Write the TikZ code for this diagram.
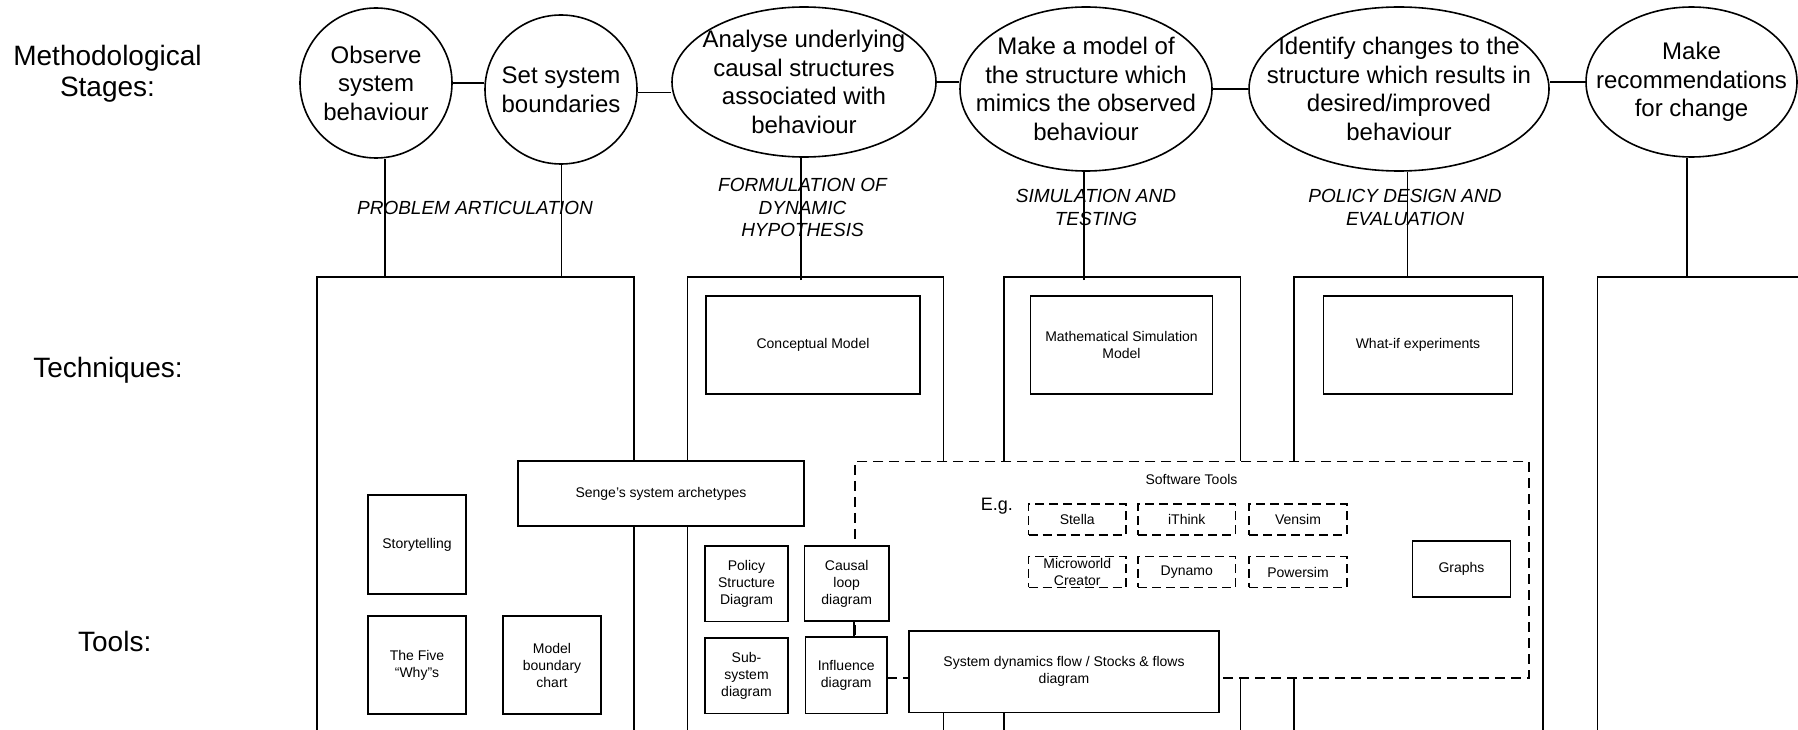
\documentclass[tikz,border=0pt]{standalone}
\usepackage{fontspec}
\setmainfont{Liberation Sans}
\usetikzlibrary{shapes.geometric}
\begin{document}
\begin{tikzpicture}[x=1pt,y=-1pt, line width=1.6pt,
  stage/.style={draw, ellipse, fill=white, inner sep=0pt},
  stagetext/.style={align=center, font=\fontsize{24}{28.5}\selectfont, inner sep=0pt},
  rowlabel/.style={align=center, font=\fontsize{28}{31}\selectfont, inner sep=0pt},
  phase/.style={align=center, font=\fontsize{19}{22.3}\selectfont\itshape, inner sep=0pt},
  colbox/.style={draw, anchor=north west, inner sep=0pt, minimum height=600pt},
  box/.style={draw, fill=white, align=center, inner sep=0pt, font=\fontsize{14}{17}\selectfont},
  swbox/.style={draw, dash pattern=on 10pt off 6pt, fill=white, inner sep=0pt},
  prod/.style={draw, dash pattern=on 9pt off 5pt, fill=white, align=center, inner sep=0pt,
    minimum width=97.5pt, minimum height=30.7pt, font=\fontsize{14}{17}\selectfont},
  small/.style={align=center, inner sep=0pt, font=\fontsize{14}{17}\selectfont},
]
\useasboundingbox (0,0) rectangle (1798,730);
\clip (0,0) rectangle (1798,730);

% row labels
\node[rowlabel] (lstages) at (107.5,74) {Methodological\\Stages:};
\node[rowlabel] (ltech) at (108,370) {Techniques:};
\node[rowlabel] (ltools) at (114.7,641.5) {Tools:};

% columns
\node[colbox, minimum width=317pt] (col1) at (316,276) {};
\node[colbox, minimum width=256pt] (col2) at (686.5,276) {};
\node[colbox, minimum width=236.5pt] (col3) at (1003,276) {};
\node[colbox, minimum width=249pt] (col4) at (1293,276) {};
\node[colbox, minimum width=300pt] (col5) at (1596.5,276) {};

% stages
\node[stage, minimum width=152pt, minimum height=150pt] (e1) at (376,83) {};
\node[stage, minimum width=152pt, minimum height=149pt] (e2) at (561,89.5) {};
\node[stage, minimum width=264pt, minimum height=150pt] (e3) at (804,82) {};
\node[stage, minimum width=252pt, minimum height=164pt] (e4) at (1086,89) {};
\node[stage, minimum width=300pt, minimum height=164pt] (e5) at (1399,89) {};
\node[stage, minimum width=211pt, minimum height=150pt] (e6) at (1691.5,82) {};

\node[stagetext] at (e1) {Observe\\system\\behaviour};
\node[stagetext] at (e2) {Set system\\boundaries};
\node[stagetext] at (e3) {Analyse underlying\\causal structures\\associated with\\behaviour};
\node[stagetext] at (e4) {Make a model of\\the structure which\\mimics the observed\\behaviour};
\node[stagetext] at (e5) {Identify changes to the\\structure which results in\\desired/improved\\behaviour};
\node[stagetext] at (e6) {Make\\recommendations\\for change};

\draw (e1.east) -- (e1.east -| e2.west);
\draw ([yshift=-3pt]e2.east) -- ([yshift=-3pt]e2.east -| e3.west);
\draw (e3.east) -- (e3.east -| e4.west);
\draw (e4.east) -- (e4.east -| e5.west);
\draw ([yshift=7pt]e5.east) -- ([yshift=7pt]e5.east -| e6.west);

% stage to column connectors
\coordinate (t1) at (385,276);
\coordinate (t2) at (561.5,276);
\coordinate (t3) at (801,280);
\coordinate (t4) at (1084,280);
\coordinate (t5) at (1407.5,276);
\coordinate (t6) at (1687,276);
\draw (t1) -- (t1 |- e1.south);
\draw (t2) -- (t2 |- e2.south);
\draw (t3) -- (t3 |- e3.south);
\draw (t4) -- (t4 |- e4.south);
\draw (t5) -- (t5 |- e5.south);
\draw (t6) -- (t6 |- e6.south);

% phase labels
\node[phase] (p1) at (475,207.5) {PROBLEM ARTICULATION};
\node[phase] (p2) at (802.5,207.5) {FORMULATION OF\\DYNAMIC\\HYPOTHESIS};
\node[phase] (p3) at (1096,207.5) {SIMULATION AND\\TESTING};
\node[phase] (p4) at (1405,207.5) {POLICY DESIGN AND\\EVALUATION};

% techniques
\node[box, minimum width=213.5pt, minimum height=98pt] (concept) at (813,345) {Conceptual Model};
\node[box, minimum width=182pt, minimum height=98pt] (mathsim) at (1121.5,345) {Mathematical Simulation\\Model};
\node[box, minimum width=189pt, minimum height=98pt] (whatif) at (1418,345) {What-if experiments};

% software tools
\node[swbox, minimum width=674pt, minimum height=216.4pt] (sw) at (1192,569.5) {};
\node[small] (swlabel) at (1191.5,479) {Software Tools};
\node[anchor=base west, inner sep=0pt, font=\fontsize{18}{20}\selectfont] (eg) at (980,510.5) {E.g.};
\node[prod] (stella) at (1077.25,519.35) {Stella};
\node[prod] (ithink) at (1186.75,519.35) {iThink};
\node[prod] (vensim) at (1298,519.35) {Vensim};
\node[prod] (micro) at (1077.25,572) {Microworld\\Creator};
\node[prod] (dynamo) at (1186.75,572) {Dynamo};
\node[prod] (powersim) at (1298,572) {Powersim};
\node[box, minimum width=98pt, minimum height=56pt] (graphs) at (1461.5,569) {Graphs};

% tools
\node[box, minimum width=286.5pt, minimum height=65pt] (senge) at (661,493.5) {Senge’s system archetypes};
\node[box, minimum width=98pt, minimum height=99pt] (story) at (417,544.5) {Storytelling};
\node[box, minimum width=98pt, minimum height=98pt] (five) at (417,665) {The Five\\“Why”s};
\node[box, minimum width=98pt, minimum height=98pt] (mbc) at (552,665) {Model\\boundary\\chart};
\node[box, minimum width=83pt, minimum height=75.6pt] (policy) at (746.5,583.5) {Policy\\Structure\\Diagram};
\node[box, minimum width=84.5pt, minimum height=75.3pt] (causal) at (846.7,583.4) {Causal\\loop\\diagram};
\node[box, minimum width=83pt, minimum height=75.6pt] (subsys) at (746.5,675.5) {Sub-\\system\\diagram};
\node[box, minimum width=81.5pt, minimum height=76.3pt] (influence) at (846.2,675.2) {Influence\\diagram};
\node[box, minimum width=310pt, minimum height=81.6pt] (sd) at (1064,671.5) {System dynamics flow / Stocks \& flows\\diagram};

\draw (causal.south -| sw.west) -- (influence.north -| sw.west);
\end{tikzpicture}
\end{document}
